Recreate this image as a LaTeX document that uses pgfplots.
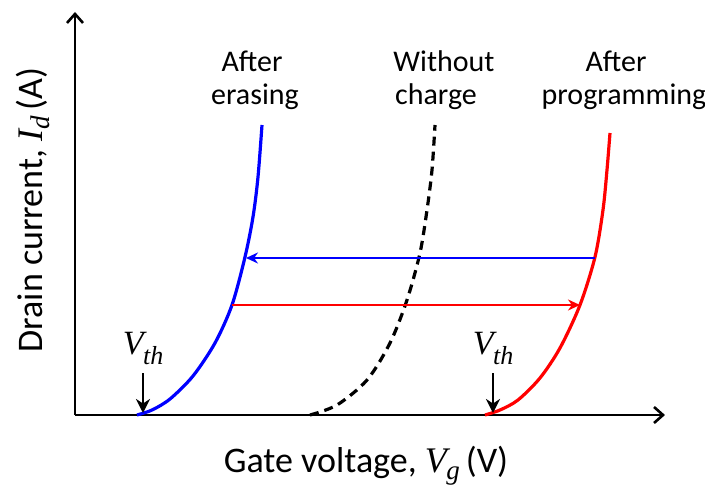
\documentclass[border=0pt]{standalone}
\usepackage{pgfplots}
\pgfplotsset{compat=1.18}
\usepackage{fontspec}
\setmainfont{Carlito}
\newfontfamily\tms{Liberation Serif}
\usetikzlibrary{arrows.meta}

% italic serif symbol with a lowered subscript: #1 symbol, #2 subscript,
% #3 main size, #4 subscript size, #5 drop
\newcommand{\sym}[5]{{\tms\itshape\fontsize{#3}{#3}\selectfont #1\kern-0.5bp\raisebox{-#5}{\fontsize{#4}{#4}\selectfont #2}}}

\begin{document}
\begin{tikzpicture}
% page extent (axis origin sits at the picture origin)
\useasboundingbox (-75bp,-71bp) rectangle (630bp,415bp);
\begin{axis}[
  anchor=south west, at={(0,0)},
  scale only axis, width=590bp, height=403bp,
  xmin=75, xmax=665, ymin=0, ymax=403,
  axis lines=left,
  axis line style={line width=2.8bp, -{Straight Barb[length=9bp,width=16bp,line width=2.6bp]}},
  xtick=\empty, ytick=\empty,
  clip=false,
  every node/.style={inner sep=0pt, outer sep=0pt},
]
% transfer curves
\addplot[blue, line width=3.2bp, smooth] coordinates {
  (137,0) (152,5) (170,16) (193,39) (215,72) (232,110) (245,158) (253,198) (258,238) (262,290)};
\addplot[black, line width=3.2bp, smooth, dash pattern=on 9bp off 6bp] coordinates {
  (310,0) (337,10) (367,35) (390,72) (407,115) (420,162) (427,205) (432,245) (435,290)};
\addplot[red, line width=3.2bp, smooth] coordinates {
  (485,0) (500,5) (518,15) (540,37) (560,67) (580,110) (595,158) (603,205) (607,245) (610,282)};

% threshold shifts
\addplot[blue, line width=2bp, -{Stealth[length=12bp,width=11bp]}] coordinates {(595,157) (246,157)};
\addplot[red, line width=2bp, -{Stealth[length=12bp,width=11bp]}] coordinates {(232,110) (580,110)};

% threshold markers
\addplot[black, line width=2.6bp, -{Stealth[length=14bp,width=14bp]}] coordinates {(143,42) (143,2)};
\addplot[black, line width=2.6bp, -{Stealth[length=14bp,width=14bp]}] coordinates {(493,42) (493,2)};
\node[anchor=base] at (axis cs:143,60) {\sym{V}{th}{34bp}{26bp}{10bp}};
\node[anchor=base] at (axis cs:493,60) {\sym{V}{th}{34bp}{26bp}{10bp}};

% curve labels
\begin{scope}[font=\fontsize{30bp}{34bp}\selectfont]
\node[anchor=base] at (axis cs:252,343) {After};
\node[anchor=base] at (axis cs:255,310) {erasing};
\node[anchor=base] at (axis cs:444,343) {Without};
\node[anchor=base] at (axis cs:436,310) {charge};
\node[anchor=base] at (axis cs:616,343) {After};
\node[anchor=base] at (axis cs:624,310) {programming};
\end{scope}

% axis titles
\node[font=\fontsize{36bp}{40bp}\selectfont, anchor=base] at (axis cs:366,-57)
  {Gate voltage, \sym{V}{g}{36bp}{27bp}{7bp}\,(V)};
\node[font=\fontsize{36bp}{40bp}\selectfont, rotate=90, anchor=base] at (axis cs:43,205)
  {Drain current, \sym{I}{d}{36bp}{27bp}{7bp}\,(A)};
\end{axis}
\end{tikzpicture}
\end{document}
